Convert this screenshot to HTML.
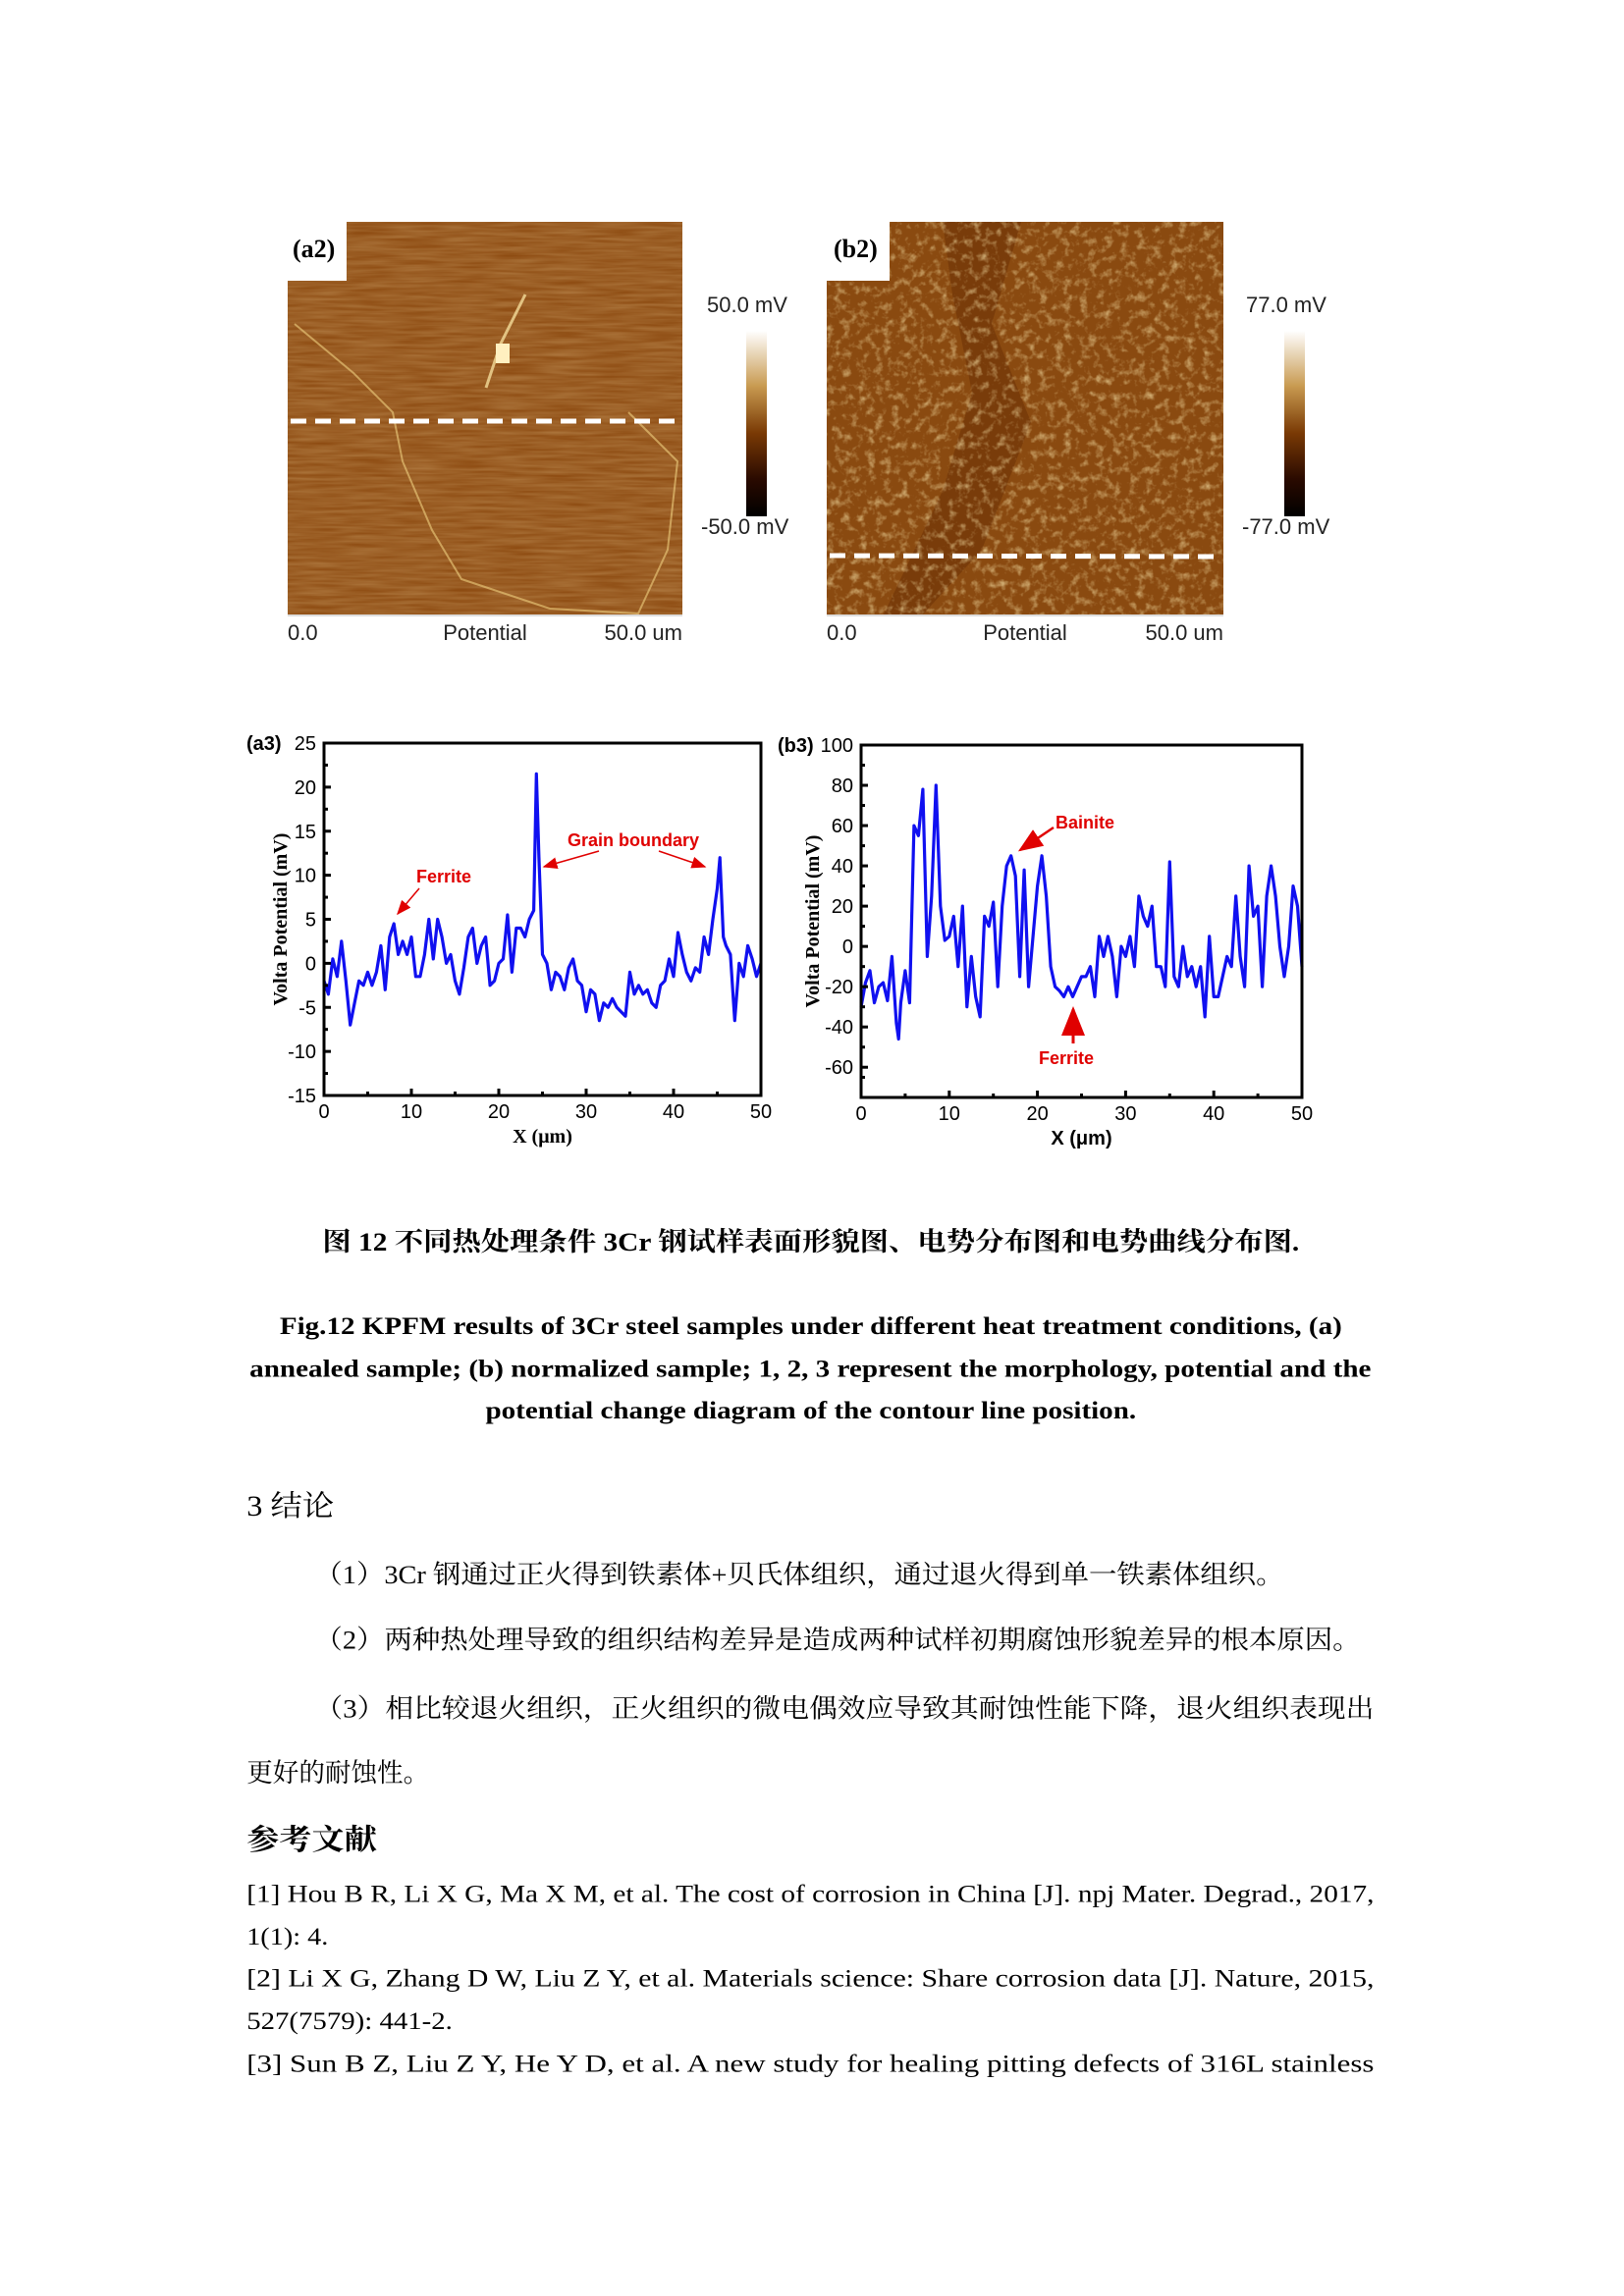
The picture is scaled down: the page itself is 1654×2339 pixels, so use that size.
<!DOCTYPE html>
<html><head><meta charset="utf-8"><style>
html,body{margin:0;padding:0;background:#fff;}
svg{display:block}
.t{font-family:"Liberation Serif","Noto Serif CJK SC","Noto Sans CJK SC",serif;fill:#000}
.s{font-family:"Liberation Sans",sans-serif}
</style></head><body>
<svg id="page" width="1654" height="2339" viewBox="0 0 1654 2339" xmlns="http://www.w3.org/2000/svg">
<defs>
<filter id="noiseA" x="0" y="0" width="100%" height="100%">
<feTurbulence type="fractalNoise" baseFrequency="0.02 0.3" numOctaves="2" seed="3"/>
<feColorMatrix values="0 0 0 0 0.95  0 0 0 0 0.75  0 0 0 0 0.4  0 0 0 0.35 -0.05"/>
</filter>
<filter id="noiseB" x="0" y="0" width="100%" height="100%">
<feTurbulence type="fractalNoise" baseFrequency="0.12" numOctaves="3" seed="7"/>
<feColorMatrix values="0 0 0 0 1  0 0 0 0 0.85  0 0 0 0 0.45  0 0 0 1.6 -0.78"/>
</filter>
<linearGradient id="cbar" x1="0" y1="0" x2="0" y2="1">
<stop offset="0" stop-color="#ffffff"/><stop offset="0.3" stop-color="#c89a50"/>
<stop offset="0.55" stop-color="#7a3a05"/><stop offset="0.8" stop-color="#2a0a00"/><stop offset="1" stop-color="#000"/>
</linearGradient>
<marker id="arr" markerWidth="10" markerHeight="8" refX="9" refY="4" orient="auto"><path d="M0,0 L10,4 L0,8 z" fill="#e00000"/></marker>
</defs>

<!-- a2 image -->
<g>
<rect x="293" y="226" width="402" height="400" fill="#8e4c12"/>
<rect x="293" y="226" width="402" height="400" filter="url(#noiseA)"/>
<path d="M300,330 L360,380 L400,420 L410,470 L440,540 L470,590 L500,600 L560,620 L650,625 L680,560 L690,470 L640,420" fill="none" stroke="#f0d080" stroke-width="2" opacity="0.6"/>
<path d="M535,300 L510,350 L495,395" fill="none" stroke="#f4dc9a" stroke-width="3" opacity="0.8"/>
<rect x="505" y="350" width="14" height="20" fill="#fff0c0"/>
<rect x="293" y="226" width="60" height="60" fill="#fff"/>
<text class="t" x="298" y="262" font-size="26" font-weight="bold">(a2)</text>
<line x1="296" y1="429" x2="692" y2="429" stroke="#fff" stroke-width="5" stroke-dasharray="16,9"/>
</g>
<g>
<rect x="760" y="337" width="21" height="189" fill="url(#cbar)"/>
<text class="s" x="720" y="318" font-size="22" fill="#222">50.0 mV</text>
<text class="s" x="714" y="544" font-size="22" fill="#222">-50.0 mV</text>
</g>
<g>
<line x1="293" y1="627" x2="695" y2="627" stroke="#bbb" stroke-width="1"/>
<text class="s" x="293" y="652" font-size="22" fill="#222">0.0</text>
<text class="s" x="494" y="652" font-size="22" fill="#222" text-anchor="middle">Potential</text>
<text class="s" x="695" y="652" font-size="22" fill="#222" text-anchor="end">50.0 um</text>
</g>

<!-- b2 image -->
<g>
<rect x="842" y="226" width="404" height="400" fill="#8a4a10"/>
<path d="M960,226 L1040,226 L1010,330 L1050,430 L1000,560 L940,626 L900,626 L960,500 L990,400 L970,300 z" fill="#6e3306" opacity="0.6"/>
<rect x="842" y="226" width="404" height="400" filter="url(#noiseB)" opacity="0.85"/>
<rect x="842" y="226" width="64" height="60" fill="#fff"/>
<text class="t" x="849" y="262" font-size="26" font-weight="bold">(b2)</text>
<line x1="845" y1="566" x2="1244" y2="567" stroke="#fff" stroke-width="5" stroke-dasharray="16,9"/>
</g>
<g>
<rect x="1308" y="337" width="21" height="189" fill="url(#cbar)"/>
<text class="s" x="1269" y="318" font-size="22" fill="#222">77.0 mV</text>
<text class="s" x="1265" y="544" font-size="22" fill="#222">-77.0 mV</text>
</g>
<g>
<line x1="842" y1="627" x2="1246" y2="627" stroke="#bbb" stroke-width="1"/>
<text class="s" x="842" y="652" font-size="22" fill="#222">0.0</text>
<text class="s" x="1044" y="652" font-size="22" fill="#222" text-anchor="middle">Potential</text>
<text class="s" x="1246" y="652" font-size="22" fill="#222" text-anchor="end">50.0 um</text>
</g>

<g id="chartA"></g>
<g id="chartB"></g>

<g transform="matrix(0.989 0 0 0.989 1 4)">
<g>
<text class="t" x="331" y="1284" font-size="27" font-weight="bold" textLength="1006" lengthAdjust="spacingAndGlyphs">图 12  不同热处理条件 3Cr 钢试样表面形貌图、电势分布图和电势曲线分布图.</text>
</g>
<g>
<text class="t" x="287" y="1370" font-size="26" font-weight="bold" textLength="1094" lengthAdjust="spacingAndGlyphs">Fig.12 KPFM results of 3Cr steel samples under different heat treatment conditions, (a)</text>
<text class="t" x="256" y="1414" font-size="26" font-weight="bold" textLength="1155" lengthAdjust="spacingAndGlyphs">annealed sample; (b) normalized sample; 1, 2, 3 represent the morphology, potential and the</text>
<text class="t" x="499" y="1457" font-size="26" font-weight="bold" textLength="670" lengthAdjust="spacingAndGlyphs">potential change diagram of the contour line position.</text>
</g>
<text class="t" x="253" y="1557" font-size="30" textLength="90" lengthAdjust="spacingAndGlyphs">3 结论</text>
<g>
<text class="t" x="323" y="1627" font-size="27" textLength="998" lengthAdjust="spacingAndGlyphs">（1）3Cr 钢通过正火得到铁素体+贝氏体组织，通过退火得到单一铁素体组织。</text>
<text class="t" x="323" y="1694" font-size="27" textLength="1077" lengthAdjust="spacingAndGlyphs">（2）两种热处理导致的组织结构差异是造成两种试样初期腐蚀形貌差异的根本原因。</text>
<text class="t" x="323" y="1765" font-size="27" textLength="1091" lengthAdjust="spacingAndGlyphs">（3）相比较退火组织，正火组织的微电偶效应导致其耐蚀性能下降，退火组织表现出</text>
<text class="t" x="253" y="1831" font-size="27" textLength="188" lengthAdjust="spacingAndGlyphs">更好的耐蚀性。</text>
</g>
<text class="t" x="253" y="1901" font-size="30" font-weight="bold" textLength="134" lengthAdjust="spacingAndGlyphs">参考文献</text>
<g>
<text class="t" x="253" y="1955" font-size="26" textLength="1161" lengthAdjust="spacingAndGlyphs">[1]  Hou B R, Li X G, Ma X M, et al. The cost of corrosion in China [J]. npj Mater. Degrad., 2017,</text>
<text class="t" x="253" y="1999" font-size="26" textLength="84" lengthAdjust="spacingAndGlyphs">1(1): 4.</text>
<text class="t" x="253" y="2042" font-size="26" textLength="1161" lengthAdjust="spacingAndGlyphs">[2]  Li X G, Zhang D W, Liu Z Y, et al. Materials science: Share corrosion data [J]. Nature, 2015,</text>
<text class="t" x="253" y="2086" font-size="26" textLength="212" lengthAdjust="spacingAndGlyphs">527(7579): 441-2.</text>
<text class="t" x="253" y="2130" font-size="26" textLength="1161" lengthAdjust="spacingAndGlyphs">[3]  Sun B Z, Liu Z Y, He Y D, et al. A new study for healing pitting defects of 316L stainless</text>
</g>
</g>
</svg>
<script>
// ---- chart a3 data ----
const aX = [0,0.5,1,1.5,2,2.5,3,3.5,4,4.5,5,5.5,6,6.5,7,7.5,8,8.5,9,9.5,10,10.5,11,11.5,12,12.5,13,13.5,14,14.5,15,15.5,16,16.5,17,17.5,18,18.5,19,19.5,20,20.5,21,21.5,22,22.5,23,23.5,24,24.3,24.6,25,25.5,26,26.5,27,27.5,28,28.5,29,29.5,30,30.5,31,31.5,32,32.5,33,33.5,34,34.5,35,35.5,36,36.5,37,37.5,38,38.5,39,39.5,40,40.5,41,41.5,42,42.5,43,43.5,44,44.5,45,45.3,45.7,46,46.5,47,47.5,48,48.5,49,49.5,50];
const aY = [-2,-3.5,0.5,-1.5,2.5,-2,-7,-4.5,-2,-2.5,-1,-2.5,-1,2,-3,3,4.5,1,2.5,1,3,-1.5,-1.5,1,5,0.5,5,3,0,1,-2,-3.5,-0.5,3,4,0,2,3,-2.5,-2,0,0.5,5.5,-1,4,4,3,5,6,21.5,12,1,0,-3,-1,-1.5,-3,-0.5,0.5,-2,-2.5,-5.5,-3,-3.5,-6.5,-4.5,-5,-4,-5,-5.5,-6,-1,-3.5,-2.5,-3.5,-3,-4.5,-5,-2.5,-2,0.5,-1.5,3.5,1,-1,-2,-0.5,-1,3,1,5,8.5,12,3,2,1,-6.5,0,-1.5,2,0.5,-1.5,0];
const aYTicks = [-15,-10,-5,0,5,10,15,20,25];
const aXTicks = [0,10,20,30,40,50];
// ---- chart b3 data ----
const bX = [0,0.5,1,1.5,2,2.5,3,3.5,4,4.25,4.5,5,5.5,6,6.5,7,7.5,8,8.5,9,9.5,10,10.5,11,11.5,12,12.5,13,13.5,14,14.5,15,15.5,16,16.5,17,17.5,18,18.5,19,19.5,20,20.5,21,21.5,22,22.5,23,23.5,24,24.5,25,25.5,26,26.5,27,27.5,28,28.5,29,29.5,30,30.5,31,31.5,32,32.5,33,33.5,34,34.5,35,35.5,36,36.5,37,37.5,38,38.5,39,39.5,40,40.5,41,41.5,42,42.5,43,43.5,44,44.5,45,45.5,46,46.5,47,47.5,48,48.5,49,49.5,50];
const bY = [-30,-18,-12,-28,-20,-18,-27,-5,-38,-46,-28,-12,-28,60,55,78,-5,25,80,20,3,5,15,-10,20,-30,-5,-25,-35,15,10,22,-20,20,40,45,35,-15,38,-20,5,30,45,25,-10,-20,-22,-25,-20,-25,-20,-15,-15,-10,-25,5,-5,5,-5,-25,0,-5,5,-10,25,15,10,20,-10,-10,-20,42,-15,-20,0,-15,-10,-20,-10,-35,5,-25,-25,-15,-5,-10,25,-5,-20,40,15,20,-20,25,40,25,0,-15,0,30,20,-10];
const bYTicks = [-60,-40,-20,0,20,40,60,80,100];
const bXTicks = [0,10,20,30,40,50];

const NS = 'http://www.w3.org/2000/svg';
function mk(tag, attrs, parent){
  const e = document.createElementNS(NS, tag);
  for (const k in attrs) e.setAttribute(k, attrs[k]);
  parent.appendChild(e); return e;
}
function drawChart(g, cfg){
  const sx = v => cfg.x0 + (v - cfg.xmin) / (cfg.xmax - cfg.xmin) * (cfg.x1 - cfg.x0);
  const sy = v => cfg.y1 - (v - cfg.ymin) / (cfg.ymax - cfg.ymin) * (cfg.y1 - cfg.y0);
  let d = '';
  cfg.xs.forEach((x, i) => { d += (i ? 'L' : 'M') + sx(x).toFixed(1) + ',' + sy(cfg.ys[i]).toFixed(1); });
  const p = mk('path', {d: d, fill: 'none', stroke: '#1010f0', 'stroke-width': 3.2, 'stroke-linejoin': 'round'}, g);
  
  
  const fr = mk('rect', {x: cfg.x0, y: cfg.y0, width: cfg.x1 - cfg.x0, height: cfg.y1 - cfg.y0, fill: 'none', stroke: '#000', 'stroke-width': 3}, g);
  
  
  cfg.yTicks.forEach((v, i) => {
    const y = sy(v);
    mk('line', {x1: cfg.x0, x2: cfg.x0 + 7, y1: y, y2: y, stroke: '#000', 'stroke-width': 3}, g);
    if (i < cfg.yTicks.length - 1) { const ym = sy((v + cfg.yTicks[i+1]) / 2); mk('line', {x1: cfg.x0, x2: cfg.x0 + 4, y1: ym, y2: ym, stroke: '#000', 'stroke-width': 3}, g); }
    const t = mk('text', {x: cfg.x0 - 8, y: y + 7, 'font-size': 20, 'text-anchor': 'end', 'font-family': 'Liberation Sans, sans-serif'}, g);
    t.textContent = v;
    
    
  });
  if (cfg.ymin < cfg.yTicks[0]) { const ym = sy((cfg.ymin + cfg.yTicks[0]) / 2 + 2.5); mk('line', {x1: cfg.x0, x2: cfg.x0 + 4, y1: ym, y2: ym, stroke: '#000', 'stroke-width': 3}, g); }
  cfg.xTicks.forEach((v, i) => {
    const x = sx(v);
    mk('line', {x1: x, x2: x, y1: cfg.y1, y2: cfg.y1 - 7, stroke: '#000', 'stroke-width': 3}, g);
    if (i < cfg.xTicks.length - 1) { const xm = sx(v + 5); mk('line', {x1: xm, x2: xm, y1: cfg.y1, y2: cfg.y1 - 4, stroke: '#000', 'stroke-width': 3}, g); }
    const t = mk('text', {x: x, y: cfg.y1 + 23, 'font-size': 20, 'text-anchor': 'middle', 'font-family': 'Liberation Sans, sans-serif'}, g);
    t.textContent = v;
    
    
  });
  const yt = mk('text', {x: 0, y: 0, 'font-size': 20, 'font-weight': 'bold', 'text-anchor': 'middle', 'font-family': 'Liberation Serif, serif', transform: 'translate(' + cfg.ytx + ',' + ((cfg.y0 + cfg.y1) / 2) + ') rotate(-90)'}, g);
  yt.textContent = 'Volta Potential (mV)';
  
  
  const xt = mk('text', {x: (cfg.x0 + cfg.x1) / 2, y: cfg.y1 + 48, 'font-size': 20, 'font-weight': 'bold', 'text-anchor': 'middle', 'font-family': cfg.xtf}, g);
  xt.textContent = 'X (μm)';
  
  
  const pl = mk('text', {x: cfg.plx, y: cfg.y0 + 7, 'font-size': 20, 'font-weight': 'bold', 'font-family': 'Liberation Sans, sans-serif'}, g);
  pl.textContent = cfg.label;
  
  
}
const gA = document.getElementById('chartA');
drawChart(gA, {x0: 330, x1: 775, y0: 757, y1: 1116, xmin: 0, xmax: 50, ymin: -15, ymax: 25, xs: aX, ys: aY, yTicks: aYTicks, xTicks: aXTicks, ytx: 292, xtf: 'Liberation Serif, serif', plx: 251, label: '(a3)'});
const gB = document.getElementById('chartB');
drawChart(gB, {x0: 877, x1: 1326, y0: 759, y1: 1118, xmin: 0, xmax: 50, ymin: -75, ymax: 100, xs: bX, ys: bY, yTicks: bYTicks, xTicks: bXTicks, ytx: 834, xtf: 'Liberation Sans, sans-serif', plx: 792, label: '(b3)'});

function annot(g, txt, x, y, arrows){
  const t = mk('text', {x: x, y: y, 'font-size': 18, 'font-weight': 'bold', fill: '#e00000', 'font-family': 'Liberation Sans, sans-serif'}, g);
  t.textContent = txt;
  
  
  arrows.forEach(a => {
    const l = mk('line', {x1: a[0], y1: a[1], x2: a[2], y2: a[3], stroke: '#e00000', 'stroke-width': a[4] || 1.5, 'marker-end': 'url(#arr)'}, g);
    
    
  });
}
annot(gA, 'Ferrite', 424, 899, [[427, 905, 405, 931]]);
annot(gA, 'Grain boundary', 578, 862, [[610, 867, 554, 883], [671, 867, 718, 883]]);
annot(gB, 'Bainite', 1075, 844, [[1073, 843, 1039, 866, 2.5]]);
annot(gB, 'Ferrite', 1058, 1084, [[1093, 1063, 1093, 1028, 3]]);
</script>
</body></html>
